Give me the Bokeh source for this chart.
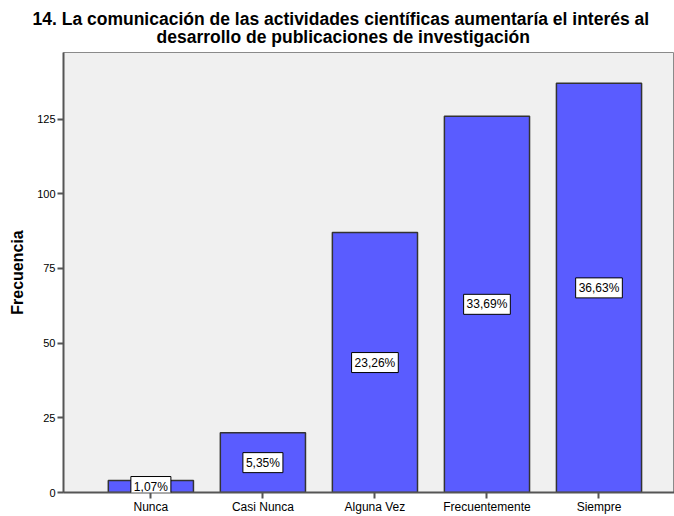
from bokeh.plotting import figure
from bokeh.models import Range1d, FixedTicker, Label, Title
from bokeh.embed import file_html
from bokeh.resources import INLINE

categories = ["Nunca", "Casi Nunca", "Alguna Vez", "Frecuentemente", "Siempre"]
counts = [4, 20, 87, 126, 137]
pct_labels = ["1,07%", "5,35%", "23,26%", "33,69%", "36,63%"]
y_ticks = [0, 25, 50, 75, 100, 125]
title_lines = ["14. La comunicación de las actividades científicas aumentaría el interés al",
               "desarrollo de publicaciones de investigación"]

FONT = "Liberation Sans"
xs = list(range(len(categories)))

p = figure(width=674, height=516, output_backend="svg", toolbar_location=None,
           x_range=Range1d(-0.78, 4.674), y_range=Range1d(0, 147.3),
           min_border_left=63, min_border_right=0, min_border_top=52, min_border_bottom=22)
p.background_fill_color = "#f0f0f0"
p.border_fill_color = "white"
p.outline_line_color = "#8a8a8a"
p.outline_line_width = 1
p.xgrid.visible = False
p.ygrid.visible = False

p.vbar(x=xs, top=counts, width=0.76, fill_color="#5a5cff", line_color="#333333", line_width=1.5)

for xi, c, t in zip(xs, counts, pct_labels):
    p.add_layout(Label(x=xi, y=c / 2, text=t, text_align="center", text_baseline="middle",
                       text_font=FONT, text_font_size="12px", text_color="black",
                       background_fill_color="white", border_line_color="black",
                       border_line_width=1, padding=3))

# x axis
p.xaxis.ticker = FixedTicker(ticks=xs)
p.xaxis.major_label_overrides = {i: c for i, c in zip(xs, categories)}
p.xaxis.major_label_text_font = FONT
p.xaxis.major_label_text_font_size = "12px"
p.xaxis.major_label_text_color = "black"
p.xaxis.major_label_standoff = 1
p.xaxis.major_tick_out = 6
p.xaxis.major_tick_in = 0
p.xaxis.minor_tick_out = 0
p.xaxis.minor_tick_in = 0
p.xaxis.axis_line_color = "#555555"
p.xaxis.axis_line_width = 2
p.xaxis.major_tick_line_color = "#555555"
p.xaxis.major_tick_line_width = 2

# y axis
p.yaxis.ticker = FixedTicker(ticks=y_ticks)
p.yaxis.major_label_text_font = FONT
p.yaxis.major_label_text_font_size = "11px"
p.yaxis.major_label_text_color = "black"
p.yaxis.major_label_standoff = 2
p.yaxis.major_tick_out = 6
p.yaxis.major_tick_in = 0
p.yaxis.minor_tick_out = 0
p.yaxis.minor_tick_in = 0
p.yaxis.axis_line_color = "#555555"
p.yaxis.axis_line_width = 2
p.yaxis.major_tick_line_color = "#555555"
p.yaxis.major_tick_line_width = 2
p.yaxis.axis_label = "Frecuencia"
p.yaxis.axis_label_text_font = FONT
p.yaxis.axis_label_text_font_size = "16px"
p.yaxis.axis_label_text_font_style = "bold"
p.yaxis.axis_label_text_color = "black"
p.yaxis.axis_label_standoff = 8

# title: two lines, stacked upward from the frame (second line added first)
offsets = [-31, 93]
standoffs = [-20, 12]
for line, off, so in reversed(list(zip(title_lines, offsets, standoffs))):
    p.add_layout(Title(text=line, align="left", offset=off, standoff=so,
                       text_font=FONT, text_font_size="17.5px", text_font_style="bold",
                       text_color="black"), "above")

open("out.html", "w").write(file_html(p, INLINE))
